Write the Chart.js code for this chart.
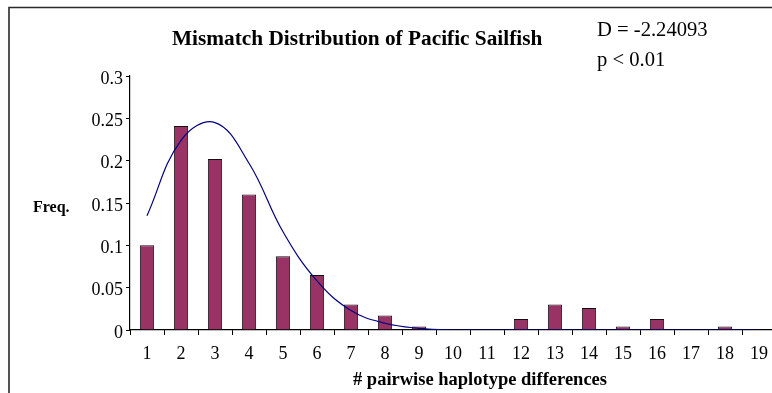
<!DOCTYPE html>
<html>
<head>
<meta charset="utf-8">
<script src="https://cdn.jsdelivr.net/npm/chart.js@4"></script>
<style>
  html, body { margin: 0; padding: 0; background: #fff; overflow: hidden; }
  #wrap { width: 800px; height: 393px; }
</style>
</head>
<body>
<div id="wrap"><canvas id="mismatchChart" width="800" height="393"></canvas></div>
<script>
// Datos
const differences = ['1','2','3','4','5','6','7','8','9','10','11','12','13','14','15','16','17','18','19'];
const observedFreq = [0.100, 0.241, 0.202, 0.160, 0.087, 0.065, 0.030, 0.017, 0.004, 0, 0, 0.013, 0.030, 0.026, 0.004, 0.013, 0, 0.004, 0];
const expectedFreq = [0.135, 0.224, 0.245, 0.197, 0.116, 0.058, 0.023, 0.008, 0.002, 0, 0, 0, 0, 0, 0, 0, 0, 0, 0];
const yTicks = [0, 0.05, 0.1, 0.15, 0.2, 0.25, 0.3];

const chartTitle = 'Mismatch Distribution of Pacific Sailfish';
const statD = 'D = -2.24093';
const statP = 'p < 0.01';
const yTitle = 'Freq.';
const xTitle = '# pairwise haplotype differences';

const serif = '"Liberation Serif", "Times New Roman", serif';

// Textos y marco
const textos = {
    id: 'textos',
    beforeDraw(chart) {
        const ctx = chart.ctx;
        ctx.save();
        ctx.strokeStyle = '#2a2a2a';
        ctx.lineWidth = 1.6;
        ctx.beginPath();
        ctx.moveTo(9, 400);
        ctx.lineTo(9, 7.5);
        ctx.lineTo(800, 7.5);
        ctx.stroke();
        ctx.restore();
    },
    afterDraw(chart) {
        const ctx = chart.ctx;
        ctx.save();
        ctx.fillStyle = '#000';
        ctx.textBaseline = 'alphabetic';
        ctx.textAlign = 'left';
        ctx.font = 'bold 21.3px ' + serif;
        ctx.fillText(chartTitle, 172, 45);
        ctx.font = '20.6px ' + serif;
        ctx.fillText(statD, 597, 36);
        ctx.fillText(statP, 597, 66);
        ctx.font = 'bold 16px ' + serif;
        ctx.fillText(yTitle, 33, 212);
        ctx.textAlign = 'center';
        ctx.font = 'bold 18.5px ' + serif;
        ctx.fillText(xTitle, 480, 385);
        ctx.restore();
    }
};

const mismatchChart = new Chart(document.getElementById('mismatchChart'), {
    type: 'bar',
    data: {
        labels: differences,
        datasets: [{
            type: 'line',
            label: 'Esperado',
            data: expectedFreq,
            borderColor: '#000080',
            borderWidth: 1.2,
            pointRadius: 0,
            tension: 0.4,
            fill: false,
            order: 0
        }, {
            type: 'bar',
            label: 'Observado',
            data: observedFreq,
            backgroundColor: '#993366',
            borderColor: '#111',
            borderWidth: 1,
            barPercentage: 0.42,
            categoryPercentage: 1,
            order: 1
        }]
    },
    options: {
        responsive: false,
        animation: false,
        events: [],
        layout: { padding: { top: 76, right: 24, bottom: 0, left: 0 } },
        plugins: {
            legend: { display: false },
            tooltip: { enabled: false }
        },
        scales: {
            x: {
                grid: {
                    offset: true,
                    drawOnChartArea: false,
                    drawTicks: true,
                    tickLength: 5,
                    color: '#000'
                },
                border: { color: '#000', width: 1.2 },
                ticks: {
                    color: '#000',
                    font: { family: serif, size: 18 },
                    padding: 8,
                    maxRotation: 0,
                    autoSkip: false
                },
                afterFit(scale) { scale.height = 63; }
            },
            y: {
                min: 0,
                max: 0.3,
                afterBuildTicks(scale) { scale.ticks = yTicks.map(v => ({ value: v })); },
                grid: {
                    drawOnChartArea: false,
                    drawTicks: true,
                    tickLength: 4,
                    color: '#000'
                },
                border: { color: '#000', width: 1.2 },
                ticks: {
                    color: '#000',
                    font: { family: serif, size: 18 },
                    padding: 3,
                    labelOffset: 3,
                    callback: v => String(Number(v.toFixed(2)))
                },
                afterFit(scale) { scale.width = 130; }
            }
        }
    },
    plugins: [textos]
});
</script>
</body>
</html>
